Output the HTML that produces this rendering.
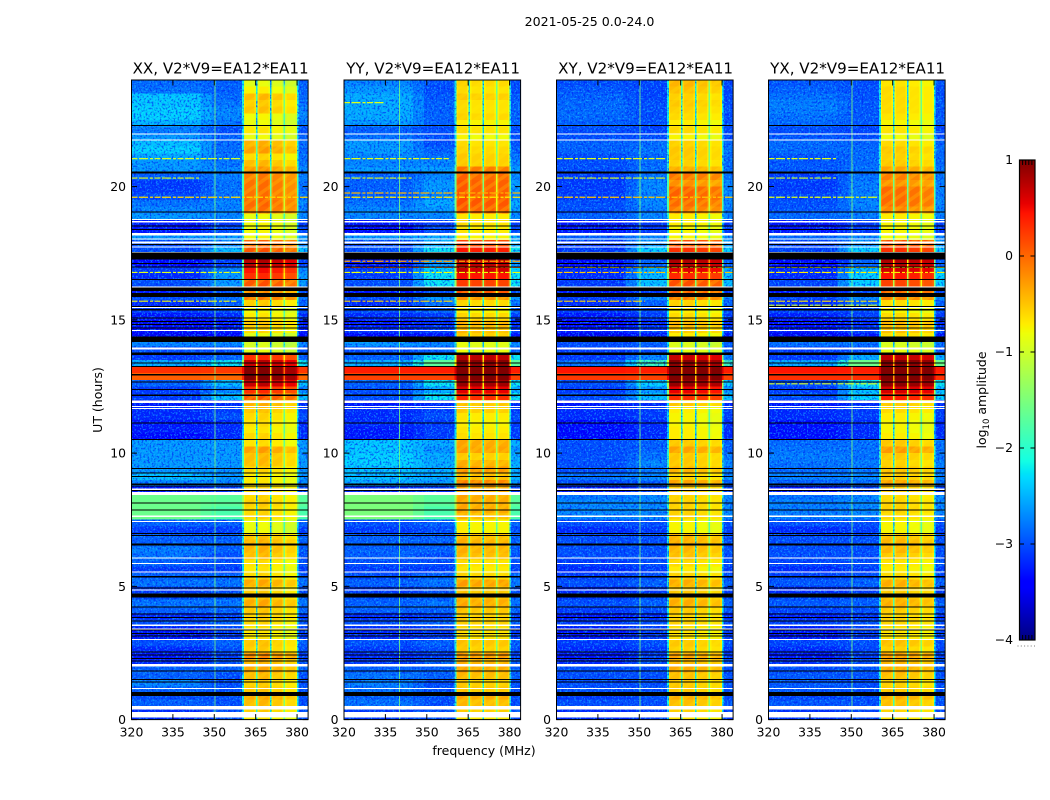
<!DOCTYPE html>
<html lang="en">
<head>
<meta charset="utf-8">
<title>2021-05-25 0.0-24.0</title>
<style>
html,body{margin:0;padding:0;background:#fff;width:1050px;height:800px;overflow:hidden}
svg{display:block;font-family:"DejaVu Sans","Liberation Sans",sans-serif;fill:#000}
</style>
</head>
<body>
<svg id="chart" xmlns="http://www.w3.org/2000/svg" width="1050" height="800" viewBox="0 0 1050 800">
<defs>
<filter id="noiseDark" x="0" y="0" width="100%" height="100%" color-interpolation-filters="sRGB">
<feTurbulence type="fractalNoise" baseFrequency="0.5" numOctaves="2" seed="4"/>
<feColorMatrix type="matrix" values="0 0 0 0 0  0 0 0 0 .1  0 0 0 0 .95  6 0 0 0 -3"/>
</filter>
<filter id="noiseLight" x="0" y="0" width="100%" height="100%" color-interpolation-filters="sRGB">
<feTurbulence type="fractalNoise" baseFrequency="0.55" numOctaves="2" seed="11"/>
<feColorMatrix type="matrix" values="0 0 0 0 .1  0 0 0 0 .72  0 0 0 0 1  0 6 0 0 -3.2"/>
</filter>
<pattern id="bandStripes" width="9" height="9" patternUnits="userSpaceOnUse" patternTransform="rotate(-35)">
<rect x="0" y="0" width="9" height="3.5" fill="#fff000" fill-opacity=".2"/>
</pattern>
</defs>
<text x="589.5" y="26" text-anchor="middle" font-size="12.6">2021-05-25 0.0-24.0</text>
<text x="484" y="755" text-anchor="middle" font-size="12.5">frequency (MHz)</text>
<text transform="translate(102,400) rotate(-90)" text-anchor="middle" font-size="12.5">UT (hours)</text>
<text transform="translate(986,400) rotate(-90)" text-anchor="middle" font-size="12.5">log<tspan font-size="8.5" dy="3">10</tspan><tspan dy="-3"> amplitude</tspan></text>
</svg>
<script>
// Axis tick labels
const freqTicks = [320, 335, 350, 365, 380];
const hourTicks = [0, 5, 10, 15, 20];
const colorTicks = [1, 0, -1, -2, -3, -4];
const panelNames = ["XX", "YY", "XY", "YX"];
const baselineLabel = "V2*V9=EA12*EA11";

// Rows run from UT 24 h (first value) down to 0 h in quarter-hour steps.
const xxLeft = [
-2.85,-2.8,-2.35,-2.35,-2.3,-2.3,-2.45,-2.75,-2.6,-2.4,-2.3,-2.5,
-2.6,-2.6,-2.9,-3.1,-3.1,-3.0,-2.8,-2.7,-2.6,-3.3,-3.3,-2.6,
-3.0,-3.0,-3.4,-3.4,-3.1,-3.2,-3.0,-3.3,-3.0,-3.2,-3.1,-3.3,
-3.5,-3.4,-3.5,-2.7,-3.0,-3.1,-2.5,.3,.05,-2.9,-3.1,-3.1,
-3.3,-3.2,-3.2,-3.3,-3.3,-3.4,-2.6,-2.6,-2.6,-2.6,-2.6,-2.4,
-2.7,-3.3,-1.6,-1.6,-1.6,-1.6,-2.9,-3.1,-2.9,-2.9,-2.75,-2.8,
-2.9,-3.1,-2.9,-2.8,-3.1,-3.0,-2.8,-2.9,-3.2,-3.0,-3.3,-3.3,
-3.0,-3.2,-3.3,-3.2,-2.9,-2.9,-2.7,-2.9,-3.0,-2.9,-3.2,-3.2];
const xxMid = [
-2.9,-2.9,-2.85,-2.8,-2.7,-2.7,-2.8,-3.0,-2.9,-2.85,-2.85,-2.8,
-2.8,-2.7,-2.75,-2.8,-2.8,-2.8,-2.7,-2.75,-2.7,-3.1,-3.0,-2.6,
-2.7,-2.4,-3.0,-3.1,-2.7,-2.6,-2.6,-3.0,-2.8,-2.9,-3.0,-3.2,
-3.3,-3.3,-3.4,-2.7,-3.0,-2.9,-2.2,.25,0,-2.4,-2.7,-2.4,
-3.2,-3.1,-3.0,-3.2,-3.2,-3.2,-2.6,-2.6,-2.6,-2.6,-2.65,-2.6,
-2.7,-3.1,-1.7,-1.7,-1.8,-1.8,-2.9,-3.1,-2.9,-2.9,-2.9,-3.0,
-3.0,-3.1,-2.9,-2.8,-3.0,-2.9,-2.8,-2.9,-3.1,-2.9,-3.1,-3.1,
-2.9,-3.0,-3.1,-3.0,-2.9,-3.0,-3.0,-3.0,-3.0,-3.0,-3.0,-3.0];
const xxBand = [
-.9,-.75,-.45,-.55,-.5,-.8,-.85,-.7,-.85,-.4,-.3,-.6,
-.45,-.25,-.1,-.05,-.05,-.05,0,-.05,-.85,-.8,-.8,-.8,
0,.1,.6,.75,.45,.3,.1,-.2,-.1,-.55,-.8,-.7,
-.5,-.6,-.9,-1.0,-.9,.3,.7,1,1,.7,.3,.1,
-.4,-.5,-.6,-.65,-.7,-.6,-.65,-.3,-.45,-.45,-.6,-.7,
-.7,-.6,-.6,-.55,-.6,-.6,-.85,-.85,-.5,-.4,-.4,-.45,
-.65,-.7,-.6,-.35,-.55,-.5,-.35,-.5,-.55,-.6,-.7,-.7,
-.5,-.55,-.2,-.4,-.35,-.45,-.55,-.5,-.35,-.45,-.55,-.7];
const yyLeft = [
-2.7,-2.6,-2.5,-2.5,-2.5,-2.5,-2.6,-2.9,-2.8,-2.6,-2.6,-2.7,
-2.7,-2.6,-2.9,-2.9,-2.9,-2.9,-2.8,-2.7,-2.7,-3.3,-3.4,-2.6,
-3.0,-3.0,-3.4,-3.3,-3.1,-3.1,-3.0,-3.3,-3.0,-3.2,-3.0,-3.2,
-3.3,-3.2,-3.4,-2.6,-3.0,-2.9,-2.5,.4,.2,-2.9,-3.0,-3.0,
-3.3,-3.2,-3.2,-3.2,-3.3,-3.3,-2.35,-2.35,-2.3,-2.3,-2.4,-2.4,
-2.5,-3.2,-1.5,-1.5,-1.5,-1.5,-3.0,-3.1,-2.9,-2.9,-2.9,-2.9,
-3.0,-3.1,-3.0,-2.9,-3.1,-3.0,-2.9,-2.9,-3.2,-3.0,-3.2,-3.2,
-3.0,-3.1,-3.2,-3.1,-2.9,-2.8,-2.75,-2.8,-2.9,-2.8,-3.1,-3.1];
const yyMid = [
-3.0,-3.0,-2.95,-2.9,-2.9,-2.9,-2.9,-3.0,-3.0,-3.0,-2.9,-2.8,
-2.7,-2.6,-2.7,-2.6,-2.6,-2.7,-2.5,-2.6,-2.7,-3.1,-3.0,-2.5,
-2.5,-2.2,-3.0,-2.6,-2.3,-2.2,-2.2,-3.0,-2.6,-2.8,-2.9,-3.1,
-3.2,-3.1,-3.3,-2.7,-2.9,-2.2,-1.7,.4,.2,-2.2,-2.5,-2.2,
-3.2,-3.1,-3.0,-3.1,-3.1,-3.1,-2.5,-2.6,-2.5,-2.5,-2.5,-2.5,
-2.6,-3.1,-1.7,-1.7,-1.8,-1.8,-2.9,-3.0,-2.9,-2.9,-2.9,-3.0,
-3.0,-3.1,-2.9,-2.8,-3.0,-2.9,-2.8,-2.9,-3.1,-2.9,-3.1,-3.1,
-2.9,-3.0,-3.1,-2.9,-2.9,-2.9,-3.0,-3.0,-3.0,-3.0,-3.0,-3.0];
const yyBand = [
-.55,-.6,-.5,-.6,-.6,-.55,-.7,-.6,-.75,-.6,-.55,-.5,
-.5,-.05,.05,.1,.1,.15,.15,.1,-.65,-.6,-.65,-.7,
.2,.45,.8,.8,.7,.5,.25,.15,-.2,-.55,-.7,-.55,
-.35,-.4,-.5,-.85,-.8,.8,1,1.1,1.1,.9,.6,.35,
-.45,-.5,-.65,-.7,-.65,-.6,-.3,-.25,-.5,-.35,-.2,-.4,
-.1,-.3,-.3,-.3,-.3,-.4,-.7,-.7,-.4,-.35,-.35,-.4,
-.6,-.65,-.55,-.25,-.45,-.4,-.3,-.45,-.5,-.5,-.6,-.6,
-.45,-.5,-.2,-.35,-.3,-.4,-.5,-.45,-.3,-.4,-.5,-.65];
const xyLeft = [
-3.0,-2.95,-2.9,-2.85,-2.85,-2.85,-2.9,-3.0,-3.0,-2.9,-2.9,-3.0,
-3.0,-3.0,-3.1,-3.1,-3.1,-3.1,-3.0,-3.0,-2.9,-3.3,-3.3,-2.9,
-3.1,-3.1,-3.4,-3.4,-3.2,-3.2,-3.1,-3.3,-3.1,-3.2,-3.1,-3.3,
-3.4,-3.3,-3.5,-3.0,-3.1,-3.1,-2.8,.45,.25,-3.0,-3.1,-3.0,
-3.3,-3.2,-3.2,-3.4,-3.4,-3.4,-3.0,-3.0,-3.0,-3.0,-3.0,-2.8,
-3.0,-3.3,-2.8,-2.7,-2.7,-2.7,-3.0,-3.2,-3.0,-3.0,-3.0,-3.0,
-3.1,-3.2,-3.1,-3.0,-3.2,-3.1,-3.0,-3.1,-3.3,-3.1,-3.3,-3.3,
-3.1,-3.2,-3.3,-3.2,-3.0,-3.0,-3.0,-3.0,-3.1,-3.0,-3.2,-3.2];
const xyMid = [
-3.05,-3.05,-3.05,-3.0,-3.0,-3.0,-3.0,-3.05,-3.0,-2.85,-2.8,-2.85,
-2.85,-2.8,-2.8,-2.7,-2.7,-2.7,-2.7,-2.75,-2.7,-3.1,-3.1,-2.7,
-2.6,-2.3,-3.0,-2.9,-2.5,-2.4,-2.4,-3.1,-2.7,-2.9,-3.0,-3.1,
-3.2,-3.1,-3.3,-2.9,-3.0,-2.7,-1.9,.4,.2,-2.3,-2.6,-2.4,
-3.2,-3.1,-3.1,-3.2,-3.2,-3.2,-2.9,-2.9,-2.8,-2.7,-2.8,-2.7,
-2.9,-3.1,-2.7,-2.7,-2.7,-2.7,-3.0,-3.1,-3.0,-3.0,-3.0,-3.0,
-3.0,-3.1,-3.0,-2.9,-3.1,-3.0,-2.9,-3.0,-3.2,-3.0,-3.1,-3.1,
-3.0,-3.1,-3.1,-3.0,-3.0,-3.0,-3.0,-3.0,-3.0,-3.0,-3.1,-3.1];
const xyBand = [
-.4,-.45,-.55,-.5,-.55,-.6,-.7,-.6,-.75,-.55,-.5,-.5,
-.55,-.35,-.05,-.2,.05,.05,0,-.1,-.7,-.7,-.75,-.75,
.15,.3,.7,.8,.6,.35,.15,.05,-.1,-.55,-.7,-.6,
-.4,-.5,-.7,-.95,-.85,.7,.95,1.1,1.1,.9,.55,.3,
-.5,-.7,-.75,-.75,-.7,-.7,-.5,-.3,-.5,-.5,-.4,-.55,
-.3,-.5,-.55,-.55,-.55,-.55,-.75,-.75,-.4,-.35,-.4,-.45,
-.6,-.7,-.55,-.35,-.5,-.45,-.35,-.5,-.55,-.55,-.65,-.65,
-.5,-.55,-.3,-.4,-.35,-.45,-.5,-.5,-.35,-.45,-.55,-.65];
const yxLeft = [
-2.95,-2.9,-2.8,-2.75,-2.75,-2.8,-2.85,-3.0,-2.95,-2.85,-2.85,-2.95,
-2.95,-2.95,-3.1,-3.1,-3.1,-3.05,-3.0,-2.95,-2.85,-3.3,-3.3,-2.85,
-3.05,-3.05,-3.4,-3.4,-3.2,-3.2,-3.05,-3.3,-3.05,-3.2,-3.05,-3.25,
-3.35,-3.3,-3.5,-2.8,-3.1,-3.1,-2.5,.45,.3,-3.0,-3.1,-3.0,
-3.3,-3.2,-3.2,-3.35,-3.35,-3.35,-2.85,-2.8,-2.75,-2.8,-2.85,-2.75,
-2.9,-3.3,-2.8,-2.75,-2.75,-2.75,-3.0,-3.2,-3.0,-3.0,-3.0,-3.0,
-3.05,-3.2,-3.05,-2.95,-3.2,-3.05,-2.95,-3.05,-3.25,-3.05,-3.3,-3.3,
-3.05,-3.2,-3.3,-3.15,-3.0,-2.95,-2.95,-2.95,-3.05,-2.95,-3.15,-3.15];
const yxMid = [
-3.0,-3.0,-3.0,-2.95,-2.95,-2.95,-2.95,-3.05,-3.0,-2.9,-2.85,-2.85,
-2.85,-2.8,-2.8,-2.75,-2.75,-2.75,-2.7,-2.75,-2.75,-3.1,-3.1,-2.7,
-2.6,-2.3,-3.0,-2.9,-2.4,-2.3,-2.3,-3.05,-2.7,-2.9,-3.0,-3.1,
-3.2,-3.1,-3.3,-2.8,-3.0,-2.5,-1.6,.4,.3,-2.2,-2.4,-2.3,
-3.2,-3.1,-3.1,-3.2,-3.2,-3.2,-2.8,-2.8,-2.8,-2.75,-2.8,-2.7,
-2.85,-3.1,-2.7,-2.7,-2.7,-2.7,-3.0,-3.1,-3.0,-3.0,-3.0,-3.0,
-3.0,-3.1,-3.0,-2.9,-3.1,-3.0,-2.9,-3.0,-3.15,-3.0,-3.1,-3.1,
-3.0,-3.05,-3.1,-3.0,-2.95,-3.0,-3.0,-3.0,-3.0,-3.0,-3.05,-3.05];
const yxBand = [
-.65,-.6,-.6,-.6,-.6,-.65,-.75,-.65,-.8,-.6,-.5,-.55,
-.5,-.3,-.1,-.2,0,0,0,-.15,-.7,-.75,-.75,-.8,
.15,.3,.75,.8,.65,.45,.2,.05,-.15,-.6,-.75,-.6,
-.4,-.45,-.6,-.95,-.85,.75,1,1.1,1.1,.95,.65,.4,
-.5,-.6,-.7,-.75,-.75,-.7,-.5,-.25,-.5,-.55,-.45,-.5,
-.3,-.5,-.6,-.55,-.55,-.6,-.75,-.75,-.45,-.4,-.4,-.5,
-.65,-.7,-.6,-.35,-.5,-.45,-.35,-.5,-.55,-.55,-.65,-.65,
-.45,-.55,-.25,-.4,-.35,-.45,-.55,-.5,-.35,-.45,-.55,-.65];

// Mean sub-band offsets (log10 amplitude) for each of the four bright sub-bands.
const xxSubBand = [0, .05, -.05, -.15];
const yySubBand = [0, -.05, -.05, -.05];
const xySubBand = [0, 0, -.05, -.1];
const yxSubBand = [0, 0, -.05, -.1];
// Amplitude drop at the three gaps between sub-bands.
const gapDrop = [1.4, 1.6, 1.0];
// Amplitude drop at the edge channels of each sub-band.
const edgeDrop = [.12];

// Flagged time ranges [upper hour, lower hour].
const flaggedBlack = [
[22.31,22.27],[20.57,20.49],[19.06,19.02],[18.54,18.5],[18.41,18.37],[17.84,17.8],[17.52,17.26],[17.14,17.1],[17.0,16.96],[16.53,16.49],[16.21,16.08],[16.0,15.85],[15.52,15.48],[15.4,15.36],[15.09,15.05],[14.96,14.92],[14.84,14.8],[14.71,14.67],[14.38,14.17],[13.78,13.68],[13.4,13.36],[13.27,13.23],[12.96,12.92],[12.69,12.65],[12.4,12.36],[12.19,12.15],[11.15,11.11],[10.53,10.49],[9.44,9.4],[9.27,9.23],[9.15,9.11],[8.85,8.81],[8.78,8.74],[8.62,8.58],[8.15,8.11],[7.88,7.84],[7.0,6.96],[6.93,6.89],[6.61,6.53],[5.38,5.33],[4.95,4.91],[4.73,4.58],[4.25,4.21],[3.98,3.94],[3.85,3.81],[3.72,3.68],[3.38,3.34],[3.25,3.21],[3.15,3.11],[2.56,2.52],[2.44,2.4],[2.31,2.27],[2.22,2.18],[1.84,1.8],[1.53,1.49],[1.43,1.39],[1.04,.89]];
const flaggedWhite = [
[22.0,21.96],[21.77,21.73],[18.79,18.75],[18.7,18.66],[18.25,18.17],[18.06,18.02],[17.94,17.87],[17.75,17.71],[17.55,17.52],[16.25,16.21],[15.48,15.44],[14.62,14.58],[13.97,13.89],[11.98,11.88],[11.77,11.73],[11.7,11.66],[8.67,8.6],[8.54,8.42],[7.65,7.61],[7.46,7.42],[6.09,6.05],[5.88,5.84],[5.56,5.52],[4.88,4.84],[3.56,3.52],[3.41,3.37],[3.02,2.98],[2.08,2.0],[1.19,1.15],[.51,.38],[.29,.08]];

// Narrow interference: horizontal [hour, log amplitude, stop MHz].
const xxRfiRows = [[21.05,-1,360],[20.32,-.9,345],[19.6,-.6,384],[16.78,-.9,360],[15.7,-.8,358]];
const yyRfiRows = [[23.15,-.9,335],[21.05,-.9,358],[20.32,-.9,345],[19.76,-.4,384],[19.6,-.7,384],[17.2,-.3,384],[16.97,0,384],[16.78,-.8,384],[15.7,-.6,360]];
const xyRfiRows = [[21.05,-.9,360],[20.32,-.9,360],[19.6,-.5,384],[16.97,-.7,384],[16.78,-.5,384],[15.7,-.6,352]];
const yxRfiRows = [[21.05,-.9,345],[20.32,-1,345],[19.6,-.9,360],[16.97,-.8,384],[16.78,-.7,384],[15.7,-.7,360],[15.55,-1,360],[12.6,-.9,360]];
// Narrow interference: vertical channel in MHz per panel.
const rfiChannels = [350, 340, 350, 350];

const colorMin = -4;
const colorMax = 1;
const cbarMinorTickCount = 4;
const cbarDotCount = 6;

const panelLeft = [xxLeft, yyLeft, xyLeft, yxLeft];
const panelMid = [xxMid, yyMid, xyMid, yxMid];
const panelBand = [xxBand, yyBand, xyBand, yxBand];
const panelSubBand = [xxSubBand, yySubBand, xySubBand, yxSubBand];
const panelRfiRows = [xxRfiRows, yyRfiRows, xyRfiRows, yxRfiRows];

// ---- layout ----
const SVGNS = "http://www.w3.org/2000/svg";
const svg = document.getElementById("chart");
const panelX = [131.5, 344, 556.5, 768.5];
const panelW = 176.6, plotTop = 80, plotBottom = 719.6;
const freqMin = 320, freqMax = 384, hourMax = 24;
const rowStep = hourMax / xxLeft.length;
const xScale = (px, mhz) => px + (mhz - freqMin) / (freqMax - freqMin) * panelW;
const yScale = h => plotBottom - h / hourMax * (plotBottom - plotTop);

function lerp(a, b, t) { return a + (b - a) * t; }
function jet(v) {
  const t = Math.max(0, Math.min(1, (v - colorMin) / (colorMax - colorMin)));
  const r = t < .35 ? 0 : t < .66 ? (t - .35) / .31 : t < .89 ? 1 : 1 - (t - .89) / .11 * .5;
  const g = t < .125 ? 0 : t < .375 ? (t - .125) / .25 : t < .64 ? 1 : t < .91 ? 1 - (t - .64) / .27 : 0;
  const b = t < .11 ? .5 + t / .11 * .5 : t < .34 ? 1 : t < .65 ? 1 - (t - .34) / .31 : 0;
  return "rgb(" + Math.round(r * 255) + "," + Math.round(g * 255) + "," + Math.round(b * 255) + ")";
}
function make(tag, attrs, parent) {
  const n = document.createElementNS(SVGNS, tag);
  for (const k in attrs) n.setAttribute(k, attrs[k]);
  parent.appendChild(n);
  return n;
}

panelNames.forEach(function (name, p) {
  const px = panelX[p];
  const g = make("g", {}, svg);
  
  

  // faint cells go under the noise texture, strong cells above it
  const cellsLow = make("g", { "shape-rendering": "crispEdges" }, g);
  
  

  const speckDark = make("rect", {
    x: px, y: plotTop, width: panelW, height: plotBottom - plotTop, filter: "url(#noiseDark)", opacity: .6
  }, g);
  
  
  const speckLight = make("rect", {
    x: px, y: plotTop, width: panelW, height: plotBottom - plotTop, filter: "url(#noiseLight)", opacity: .6
  }, g);
  
  

  const cellsHigh = make("g", { "shape-rendering": "crispEdges" }, g);
  
  

  const left = panelLeft[p], mid = panelMid[p], band = panelBand[p], sub = panelSubBand[p];
  left.forEach(function (_, r) {
    const hiH = hourMax - r * rowStep, loH = hiH - rowStep;
    const L = left[r], M = mid[r], B = band[r];
    const E = edgeDrop[0];
    const columns = [
      [320, 345, L],
      [345, 349, (L + M) / 2],
      [349, 360, M],
      [360, 360.7, lerp(M, B, .35)],
      [360.7, 361.2, B + sub[0] - E],
      [361.2, 364.6, B + sub[0]],
      [364.6, 365.1, B + sub[0] - E],
      [365.1, 365.7, B - gapDrop[0]],
      [365.7, 366.2, B + sub[1] - E],
      [366.2, 369.7, B + sub[1]],
      [369.7, 370.2, B + sub[1] - E],
      [370.2, 370.8, B - gapDrop[1]],
      [370.8, 371.3, B + sub[2] - E],
      [371.3, 374.6, B + sub[2]],
      [374.6, 375.1, B + sub[2] - E],
      [375.1, 375.7, B - gapDrop[2]],
      [375.7, 376.2, B + sub[3] - E],
      [376.2, 379.5, B + sub[3]],
      [379.5, 380, B + sub[3] - E],
      [380, 380.6, lerp(M, B, .35)],
      [380.6, 384, M]
    ];
    columns.forEach(function (c) {
      const cell = make("rect", {
        x: xScale(px, c[0]), y: yScale(hiH),
        width: xScale(px, c[1]) - xScale(px, c[0]),
        height: yScale(loH) - yScale(hiH),
        fill: jet(c[2])
      }, c[2] > -1.9 ? cellsHigh : cellsLow);
      
      
    });
    if (B < .2) {
      [[360.7, 365.1], [365.7, 370.2], [370.8, 375.1], [375.7, 380]].forEach(function (s) {
        const stripe = make("rect", {
          x: xScale(px, s[0]), y: yScale(hiH),
          width: xScale(px, s[1]) - xScale(px, s[0]),
          height: yScale(loH) - yScale(hiH),
          fill: "url(#bandStripes)"
        }, cellsHigh);
        
        
      });
    }
  });

  const vline = make("rect", {
    x: xScale(px, rfiChannels[p]), y: plotTop, width: 1,
    height: plotBottom - plotTop, fill: jet(-1.5), "fill-opacity": .8,
    "shape-rendering": "crispEdges"
  }, g);
  
  

  panelRfiRows[p].forEach(function (rf) {
    const line = make("line", {
      x1: xScale(px, freqMin), x2: xScale(px, rf[2]),
      y1: yScale(rf[0]), y2: yScale(rf[0]),
      stroke: jet(rf[1]), "stroke-width": 1.2, "stroke-dasharray": "6 1.5 9 2 3 1.5"
    }, g);
    
    
  });

  flaggedWhite.forEach(function (f) {
    const w = make("rect", {
      x: px, y: yScale(f[0]), width: panelW,
      height: Math.max(1, yScale(f[1]) - yScale(f[0])),
      fill: "#fff", "shape-rendering": "crispEdges"
    }, g);
    
    
  });
  flaggedBlack.forEach(function (f) {
    const b = make("rect", {
      x: px, y: yScale(f[0]), width: panelW,
      height: Math.max(1, yScale(f[1]) - yScale(f[0])),
      fill: "#000", "shape-rendering": "crispEdges"
    }, g);
    
    
  });

  const frame = make("rect", {
    x: px, y: plotTop, width: panelW, height: plotBottom - plotTop,
    fill: "none", stroke: "#000", "stroke-width": 1
  }, g);
  
  

  const title = make("text", {
    x: px + panelW / 2 + .8, y: 73.5, "text-anchor": "middle", "font-size": 15.1
  }, g);
  title.textContent = name + ", " + baselineLabel;
  
  

  freqTicks.forEach(function (t) {
    const x = xScale(px, t);
    const bottomTick = make("line", { x1: x, x2: x, y1: plotBottom, y2: plotBottom - 5.5, stroke: "#000", "stroke-width": 1 }, g);
    
    
    const topTick = make("line", { x1: x, x2: x, y1: plotTop, y2: plotTop + 5.5, stroke: "#000", "stroke-width": 1 }, g);
    
    
    const label = make("text", { x: x, y: 736.5, "text-anchor": "middle", "font-size": 12.4 }, g);
    label.textContent = t;
    
    
  });
  hourTicks.forEach(function (t) {
    const y = yScale(t);
    const leftTick = make("line", { x1: px, x2: px + 5.5, y1: y, y2: y, stroke: "#000", "stroke-width": 1 }, g);
    
    
    const rightTick = make("line", { x1: px + panelW, x2: px + panelW - 5.5, y1: y, y2: y, stroke: "#000", "stroke-width": 1 }, g);
    
    
    const label = make("text", { x: px - 5.5, y: y + 4.4, "text-anchor": "end", "font-size": 12.4 }, g);
    label.textContent = t;
    
    
  });
});

// ---- colorbar ----
const cbX = 1019.5, cbW = 15.5, cbTop = 160, cbBottom = 640;
const cbY = v => cbBottom - (v - colorMin) / (colorMax - colorMin) * (cbBottom - cbTop);
const cb = make("g", {}, svg);


for (let i = 0; i < 240; i++) {
  const v = colorMin + (colorMax - colorMin) * (i + .5) / 240;
  const step = make("rect", {
    x: cbX, y: cbY(colorMin + (colorMax - colorMin) * (i + 1) / 240),
    width: cbW, height: (cbBottom - cbTop) / 240 + .5, fill: jet(v),
    "shape-rendering": "crispEdges"
  }, cb);
  
  
}
const cbFrame = make("rect", { x: cbX, y: cbTop, width: cbW, height: cbBottom - cbTop, fill: "none", stroke: "#000", "stroke-width": 1.2 }, cb);


colorTicks.forEach(function (t) {
  const y = cbY(t);
  const tl = make("line", { x1: cbX, x2: cbX + 4.5, y1: y, y2: y, stroke: "#000", "stroke-width": 1 }, cb);
  
  
  const tr = make("line", { x1: cbX + cbW, x2: cbX + cbW - 4.5, y1: y, y2: y, stroke: "#000", "stroke-width": 1 }, cb);
  
  
  const lb = make("text", { x: 1013, y: y + 4, "text-anchor": "end", "font-size": 12.4 }, cb);
  lb.textContent = String(t).replace("-", "\u2212");
  
  
});
for (let i = 1; i <= cbarMinorTickCount; i++) {
  const x = cbX + cbW * i / (cbarMinorTickCount + 1);
  const topMinor = make("line", { x1: x, x2: x, y1: cbTop, y2: cbTop + 5, stroke: "#000", "stroke-width": 1 }, cb);
  
  
  const botMinor = make("line", { x1: x, x2: x, y1: cbBottom, y2: cbBottom - 5, stroke: "#000", "stroke-width": 1 }, cb);
  
  
}
for (let i = 0; i < cbarDotCount; i++) {
  const dot = make("rect", { x: 1017.5 + i * 3.3, y: 645.5, width: 1, height: 1, fill: "#777" }, cb);
  
  
}
</script>
</body>
</html>
